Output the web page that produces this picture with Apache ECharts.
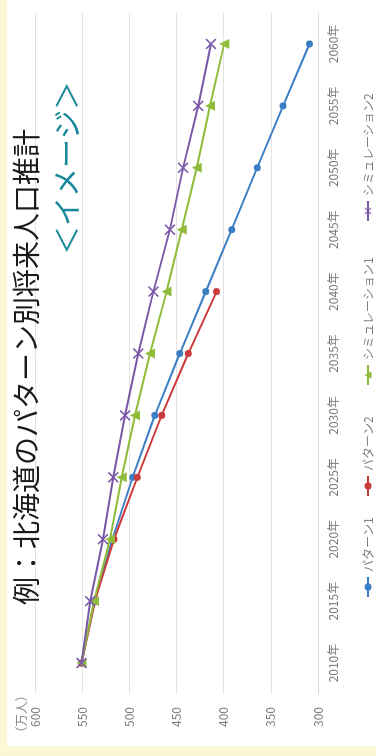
<!DOCTYPE html>
<html>
<head>
<meta charset="utf-8">
<script src="https://cdn.jsdelivr.net/npm/echarts@6/dist/echarts.min.js"></script>
<style>
  html, body { margin: 0; padding: 0; width: 376px; height: 756px; overflow: hidden; background: #fbf6d3; }
  #panel { position: absolute; left: 7px; top: 0; width: 369px; height: 746px; background: #ffffff; }
  #chart { position: absolute; left: -190px; top: 190px; width: 756px; height: 376px; transform: rotate(-90deg); }
</style>
</head>
<body>
<div id="panel"></div>
<div id="chart"></div>
<script>
var years = ['2010年','2015年','2020年','2025年','2030年','2035年','2040年','2045年','2050年','2055年','2060年'];
var pattern1 = [550.6, 537.0, 518.0, 496.5, 473.0, 446.5, 419.0, 391.5, 364.5, 337.0, 309.0];
var pattern2 = [550.6, 536.5, 516.3, 491.5, 465.7, 437.5, 407.5, null, null, null, null];
var sim1 = [550.6, 537.5, 520.5, 508.0, 494.0, 478.0, 460.5, 444.5, 428.5, 414.5, 399.5];
var sim2 = [550.6, 541.5, 528.0, 517.0, 504.5, 490.5, 474.5, 457.0, 443.0, 427.0, 413.5];
var seriesNames = ['パターン1', 'パターン2', 'シミュレーション1', 'シミュレーション2'];
var titleText = '例：北海道のパターン別将来人口推計';
var subtitleText = '＜イメージ＞';
var unitText = '（万人）';

var colors = ['#3b7ec4', '#cc3b3b', '#8fbc3a', '#7a58a8'];
var xPath = 'path://M1,0 L5,4 L9,0 L10,1 L6,5 L10,9 L9,10 L5,6 L1,10 L0,9 L4,5 L0,1 Z';
var symbols = ['circle', 'circle', 'triangle', xPath];
var symSizes = [7, 7, 10, 11];
var dataSets = [pattern1, pattern2, sim1, sim2];
var legendLefts = [153, 254, 365, 529];

var chart = echarts.init(document.getElementById('chart'), null, { renderer: 'canvas' });

var legends = seriesNames.map(function (n, i) {
  return {
    data: [n], left: legendLefts[i], top: 357, itemWidth: 20, itemHeight: 9, itemGap: 0,
    textStyle: { color: '#808080', fontSize: 12, fontFamily: 'Noto Sans CJK JP' }
  };
});

var series = seriesNames.map(function (n, i) {
  return {
    name: n, type: 'line', data: dataSets[i],
    symbol: symbols[i], symbolSize: symSizes[i], showSymbol: true,
    lineStyle: { color: colors[i], width: 2 },
    itemStyle: { color: colors[i] },
    z: 2 + i
  };
});

chart.setOption({
  backgroundColor: 'transparent',
  animation: false,
  color: colors,
  textStyle: { fontFamily: 'Noto Sans CJK JP' },
  title: [
    { text: titleText, left: 146, top: 7, textStyle: { fontSize: 28, fontWeight: 'normal', color: '#1a1a1a', fontFamily: 'Noto Sans CJK JP' } },
    { text: subtitleText, left: 496, top: 47, textStyle: { fontSize: 29, fontWeight: 'normal', color: '#17889a', fontFamily: 'Noto Sans CJK JP' } },
    { text: unitText, left: 12, top: 10, textStyle: { fontSize: 12.5, fontWeight: 'normal', color: '#8a8a8a', fontFamily: 'Noto Sans CJK JP' } }
  ],
  legend: legends,
  grid: { left: 62, right: 13, top: 35, bottom: 58, containLabel: false },
  xAxis: {
    type: 'category', data: years, boundaryGap: true,
    axisLine: { show: true, lineStyle: { color: '#d9d9d9', width: 1 } },
    axisTick: { show: false },
    axisLabel: { color: '#7a7a7a', fontSize: 12, margin: 9, interval: 0 },
    splitLine: { show: false }
  },
  yAxis: {
    type: 'value', min: 300, max: 600, interval: 50,
    axisLine: { show: false }, axisTick: { show: false },
    axisLabel: { color: '#7a7a7a', fontSize: 12, margin: 13 },
    splitLine: { show: true, lineStyle: { color: '#e3e3e3', width: 1 } }
  },
  series: series
});
</script>
</body>
</html>
